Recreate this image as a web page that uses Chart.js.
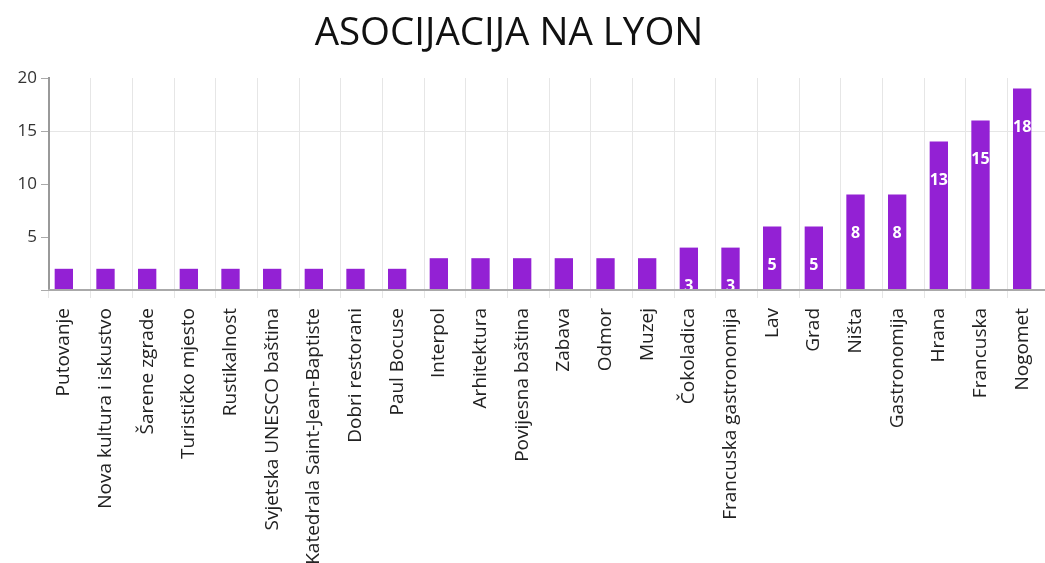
<!DOCTYPE html>
<html>
<head>
<meta charset="utf-8">
<script src="https://cdn.jsdelivr.net/npm/chart.js@4/dist/chart.umd.min.js"></script>
<style>
  html, body { margin: 0; padding: 0; background: #fff; overflow: hidden; }
  #wrap { position: relative; width: 1050px; height: 563px; }
</style>
</head>
<body>
<div id="wrap"><canvas id="chart" width="1050" height="563"></canvas></div>
<script>
const categories = [
  "Putovanje", "Nova kultura i iskustvo", "Šarene zgrade", "Turističko mjesto",
  "Rustikalnost", "Svjetska UNESCO baština", "Katedrala Saint-Jean-Baptiste",
  "Dobri restorani", "Paul Bocuse", "Interpol", "Arhitektura", "Povijesna baština",
  "Zabava", "Odmor", "Muzej", "Čokoladica", "Francuska gastronomija", "Lav", "Grad",
  "Ništa", "Gastronomija", "Hrana", "Francuska", "Nogomet"
];

// bar heights
const barValues = [2, 2, 2, 2, 2, 2, 2, 2, 2, 3, 3, 3, 3, 3, 3, 4, 4, 6, 6, 9, 9, 14, 16, 19];

// numbers printed inside the bars
const barLabels = ["1", "1", "1", "1", "1", "1", "1", "1", "1", "2", "2", "2", "2", "2", "2",
  "3", "3", "5", "5", "8", "8", "13", "15", "18"];

const yTicks = [0, 5, 10, 15, 20];

const FONT = "'Open Sans', 'DejaVu Sans', sans-serif";
const BAR_SHIFT = -6; // bars sit a little left of the category centre in the original

// title drawn off-centre like the original
const titlePlugin = {
  id: 'titleText',
  afterDraw(chart) {
    const c = chart.ctx;
    c.save();
    c.font = "38.5px " + FONT;
    c.fillStyle = "#111";
    c.textAlign = "center";
    c.textBaseline = "alphabetic";
    c.fillText("ASOCIJACIJA NA LYON", 509, 45);
    c.restore();
  }
};

// shift the bars, then write the white numbers inside them
const barPlugin = {
  id: 'barShift',
  beforeDatasetsDraw(chart) {
    chart.ctx.save();
    chart.ctx.translate(BAR_SHIFT, 0);
  },
  afterDatasetsDraw(chart) {
    const c = chart.ctx;
    c.restore();
    const area = chart.chartArea;
    const meta = chart.getDatasetMeta(0);
    c.save();
    c.beginPath();
    c.rect(area.left, area.top, area.right - area.left, area.bottom - area.top);
    c.clip();
    c.font = "bold 16px " + FONT;
    c.fillStyle = "#fff";
    c.textAlign = "center";
    c.textBaseline = "middle";
    meta.data.forEach(function(bar, i) {
      c.fillText(barLabels[i], bar.x + BAR_SHIFT, bar.y + 39);
    });
    c.restore();
  }
};

const ctx = document.getElementById('chart');

new Chart(ctx, {
  type: 'bar',
  data: {
    labels: categories,
    datasets: [{
      data: barValues,
      backgroundColor: "#9321d4",
      borderWidth: 0,
      barPercentage: 0.44,
      categoryPercentage: 1
    }]
  },
  options: {
    responsive: false,
    animation: false,
    layout: { padding: { top: 78, right: 1, left: 0, bottom: 0 } },
    plugins: {
      legend: { display: false },
      title: { display: false },
      tooltip: { enabled: false }
    },
    scales: {
      x: {
        afterFit: function(scale) {
          scale.height = 273;
          scale.paddingLeft = 0;
          scale.paddingRight = 0;
        },
        grid: {
          color: "#e6e6e6",
          lineWidth: 1,
          tickLength: 8,
          offset: true
        },
        border: { color: "#aaa", width: 2, z: 1 },
        ticks: {
          minRotation: 90,
          maxRotation: 90,
          autoSkip: false,
          padding: 10,
          labelOffset: BAR_SHIFT,
          color: "#222",
          font: { family: FONT, size: 19 }
        }
      },
      y: {
        min: 0,
        max: 20,
        afterFit: function(scale) { scale.width = 49; },
        afterBuildTicks: function(scale) {
          scale.ticks = yTicks.map(function(v) { return { value: v }; });
        },
        grid: {
          color: function(c) { return c.tick && c.tick.value === 15 ? "#e6e6e6" : "rgba(0,0,0,0)"; },
          tickColor: "#aaa",
          tickLength: 8
        },
        border: { color: "#999", width: 2 },
        ticks: {
          padding: 4,
          color: "#333",
          font: { family: FONT, size: 17 },
          callback: function(v) { return v === 0 ? "" : v; }
        }
      }
    }
  },
  plugins: [titlePlugin, barPlugin]
});
</script>
</body>
</html>
